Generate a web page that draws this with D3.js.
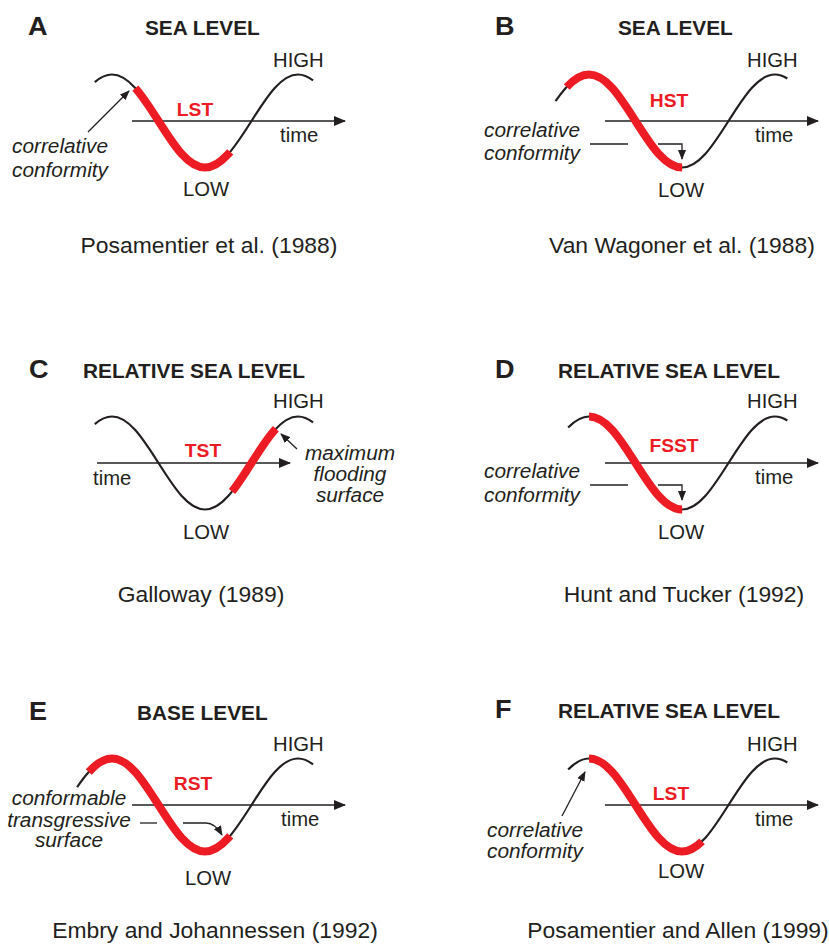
<!DOCTYPE html>
<html>
<head>
<meta charset="utf-8">
<script src="https://cdn.jsdelivr.net/npm/d3@7"></script>
<style>
  body { margin: 0; background: #fff; }
  text { font-family: "Liberation Sans", Arial, sans-serif; fill: #231f20; }
  .letter { font-weight: bold; font-size: 26px; }
  .title { font-weight: bold; font-size: 20px; }
  .lbl { font-size: 19.5px; }
  .tract { font-weight: bold; font-size: 18.5px; fill: #ed1c24; }
  .note { font-style: italic; font-size: 20px; }
  .cite { font-size: 22px; }
</style>
</head>
<body>
<div id="chart"></div>
<script>
// svg size
var svgWidth = 829;
var svgHeight = 947;

// one sea-level cycle, time in quarter periods (peak 0, trough 2, peak 4)
var cycleTime  = [-1, -0.5, 0, 0.5, 1, 1.5, 2, 2.5, 3, 3.5, 4, 4.5, 5];
var cycleLevel = [0, 0.71, 1, 0.71, 0, -0.71, -1, -0.71, 0, 0.71, 1, 0.71, 0];

// panels
var panelLetters = ["A", "B", "C", "D", "E", "F"];
var panelTitles = ["SEA LEVEL", "SEA LEVEL", "RELATIVE SEA LEVEL",
  "RELATIVE SEA LEVEL", "BASE LEVEL", "RELATIVE SEA LEVEL"];
var tractNames = ["LST", "HST", "TST", "FSST", "RST", "LST"];
var citations = ["Posamentier et al. (1988)", "Van Wagoner et al. (1988)",
  "Galloway (1989)", "Hunt and Tucker (1992)",
  "Embry and Johannessen (1992)", "Posamentier and Allen (1999)"];
var surfaceNotes = [
  ["correlative", "conformity"],
  ["correlative", "conformity"],
  ["maximum", "flooding", "surface"],
  ["correlative", "conformity"],
  ["conformable", "transgressive", "surface"],
  ["correlative", "conformity"]
];

// part of the cycle shown, and the red systems tract (time units)
var curveStart = [-0.37, -0.72, -0.37, -0.45, -0.75, -0.45];
var curveEnd   = [4.32, 4.26, 4.32, 4.26, 4.32, 4.26];
var tractStart = [0.5, -0.48, 2.58, 0, -0.5, 0];
var tractEnd   = [2.54, 2, 3.52, 2, 2.54, 2.43];

var red = "#ed1c24";
var ink = "#231f20";

// where each panel sits
var layout = [
  { tx: 205, ay: 121, axis: [132, 345], letter: [28, 35], title: [145, 35], high: [273, 67],
    tract: [195, 116], time: [280, 142], low: [183, 196], cite: [209, 253],
    note: { anchor: "start", x: 12, y: [153, 177] },
    pointers: [{ pts: [[88, 132], [129, 91]], arrow: true }] },
  { tx: 682, ay: 121, axis: [605, 818], letter: [495, 35], title: [618, 35], high: [747, 67],
    tract: [669, 107], time: [755, 142], low: [658, 197], cite: [682, 253],
    note: { anchor: "end", x: 580, y: [137, 160] },
    pointers: [{ pts: [[590, 144], [628, 144]] },
               { pts: [[658, 144], [682, 144], [682, 159]], arrow: true }] },
  { tx: 205, ay: 463, axis: [97, 290], letter: [29, 378], title: [83, 378], high: [273, 408],
    tract: [203, 457], time: [93, 485], low: [183, 539], cite: [201, 602],
    note: { anchor: "middle", x: 350, y: [460, 481, 502] },
    pointers: [{ pts: [[297, 449], [281, 434]], arrow: true }] },
  { tx: 682, ay: 463, axis: [605, 818], letter: [495, 378], title: [558, 378], high: [747, 408],
    tract: [674, 452], time: [755, 484], low: [658, 539], cite: [684, 602],
    note: { anchor: "end", x: 580, y: [478, 502] },
    pointers: [{ pts: [[590, 485], [628, 485]] },
               { pts: [[658, 485], [682, 485], [682, 500]], arrow: true }] },
  { tx: 205, ay: 805, axis: [132, 345], letter: [29, 720], title: [137, 720], high: [273, 751],
    tract: [193, 790], time: [281, 826], low: [185, 885], cite: [215, 938],
    note: { anchor: "middle", x: 69, y: [805, 827, 847] },
    pointers: [{ pts: [[140, 823], [157, 823]] },
               { pts: [[183, 823], [206, 823], [222, 835]], arrow: true, bend: true }] },
  { tx: 682, ay: 805, axis: [605, 818], letter: [495, 718], title: [558, 718], high: [747, 751],
    tract: [671, 800], time: [755, 826], low: [658, 878], cite: [678, 938],
    note: { anchor: "start", x: 487, y: [837, 858] },
    pointers: [{ pts: [[562, 816], [585, 772]], arrow: true }] }
];

var svg = d3.select("#chart")
  .append("svg")
  .attr("width", svgWidth)
  .attr("height", svgHeight);

var defs = svg.append("defs");
defs.append("marker")
  .attr("id", "axisHead")
  .attr("markerUnits", "userSpaceOnUse")
  .attr("viewBox", "0 0 12 10")
  .attr("refX", 11).attr("refY", 5)
  .attr("markerWidth", 12).attr("markerHeight", 10)
  .attr("orient", "auto")
  .append("path").attr("d", "M0,0 L12,5 L0,10 Z").attr("fill", ink);
defs.append("marker")
  .attr("id", "pointHead")
  .attr("markerUnits", "userSpaceOnUse")
  .attr("viewBox", "0 0 10 8")
  .attr("refX", 9).attr("refY", 4)
  .attr("markerWidth", 10).attr("markerHeight", 8)
  .attr("orient", "auto")
  .append("path").attr("d", "M0,0 L10,4 L0,8 Z").attr("fill", ink);

var cycle = cycleTime.map((t, i) => [t, cycleLevel[i]]);

// length along a path where it reaches a given x
function lengthAtX(node, targetX) {
  var lo = 0, hi = node.getTotalLength();
  for (var k = 0; k < 40; k++) {
    var mid = (lo + hi) / 2;
    if (node.getPointAtLength(mid).x < targetX) lo = mid; else hi = mid;
  }
  return (lo + hi) / 2;
}

layout.forEach(function(p, i) {
  var g = svg.append("g");

  var xScale = d3.scaleLinear().domain([0, 4]).range([p.tx - 93, p.tx + 93]);
  var yScale = d3.scaleLinear().domain([-1, 1]).range([p.ay + 46.5, p.ay - 46.5]);

  var line = d3.line()
    .x(d => xScale(d[0]))
    .y(d => yScale(d[1]))
    .curve(d3.curveNatural);

  // time axis
  g.append("line")
    .attr("x1", p.axis[0]).attr("x2", p.axis[1])
    .attr("y1", p.ay).attr("y2", p.ay)
    .attr("stroke", ink).attr("stroke-width", 1.4)
    .attr("marker-end", "url(#axisHead)");

  // black cycle
  var black = g.append("path")
    .attr("d", line(cycle))
    .attr("fill", "none")
    .attr("stroke", ink)
    .attr("stroke-width", 2.2);
  var node = black.node();
  var total = node.getTotalLength();
  var l0 = lengthAtX(node, xScale(curveStart[i]));
  var l1 = lengthAtX(node, xScale(curveEnd[i]));
  black.attr("stroke-dasharray", `0,${l0},${l1 - l0},${total}`);

  // red systems tract
  var r0 = lengthAtX(node, xScale(tractStart[i]));
  var r1 = lengthAtX(node, xScale(tractEnd[i]));
  g.append("path")
    .attr("d", line(cycle))
    .attr("fill", "none")
    .attr("stroke", red)
    .attr("stroke-width", 8)
    .attr("stroke-linecap", "butt")
    .attr("stroke-dasharray", `0,${r0},${r1 - r0},${total}`);

  // pointers
  p.pointers.forEach(function(ptr) {
    var path;
    if (ptr.bend) {
      var a = ptr.pts;
      path = `M${a[0][0]},${a[0][1]} L${a[1][0]},${a[1][1]} Q${a[1][0] + 9},${a[1][1]} ${a[2][0]},${a[2][1]}`;
    } else {
      path = d3.line()(ptr.pts);
    }
    g.append("path")
      .attr("d", path)
      .attr("fill", "none")
      .attr("stroke", ink)
      .attr("stroke-width", 1.3)
      .attr("marker-end", ptr.arrow ? "url(#pointHead)" : null);
  });

  // texts
  g.append("text").attr("class", "letter")
    .attr("x", p.letter[0]).attr("y", p.letter[1]).text(panelLetters[i]);
  g.append("text").attr("class", "title")
    .attr("x", p.title[0]).attr("y", p.title[1]).text(panelTitles[i]);
  g.append("text").attr("class", "lbl")
    .attr("x", p.high[0]).attr("y", p.high[1]).text("HIGH");
  g.append("text").attr("class", "lbl")
    .attr("x", p.low[0]).attr("y", p.low[1]).text("LOW");
  g.append("text").attr("class", "lbl")
    .attr("x", p.time[0]).attr("y", p.time[1]).text("time");
  g.append("text").attr("class", "tract")
    .attr("text-anchor", "middle")
    .attr("x", p.tract[0]).attr("y", p.tract[1]).text(tractNames[i]);
  g.append("text").attr("class", "cite")
    .attr("text-anchor", "middle")
    .attr("x", p.cite[0]).attr("y", p.cite[1]).text(citations[i]);

  surfaceNotes[i].forEach(function(s, k) {
    g.append("text").attr("class", "note")
      .attr("text-anchor", p.note.anchor)
      .attr("x", p.note.x).attr("y", p.note.y[k]).text(s);
  });
});

// the original lettering is slightly wide
svg.selectAll("text").each(function() {
  var w = this.getComputedTextLength();
  d3.select(this)
    .attr("textLength", w * 1.04)
    .attr("lengthAdjust", "spacingAndGlyphs");
});
</script>
</body>
</html>
